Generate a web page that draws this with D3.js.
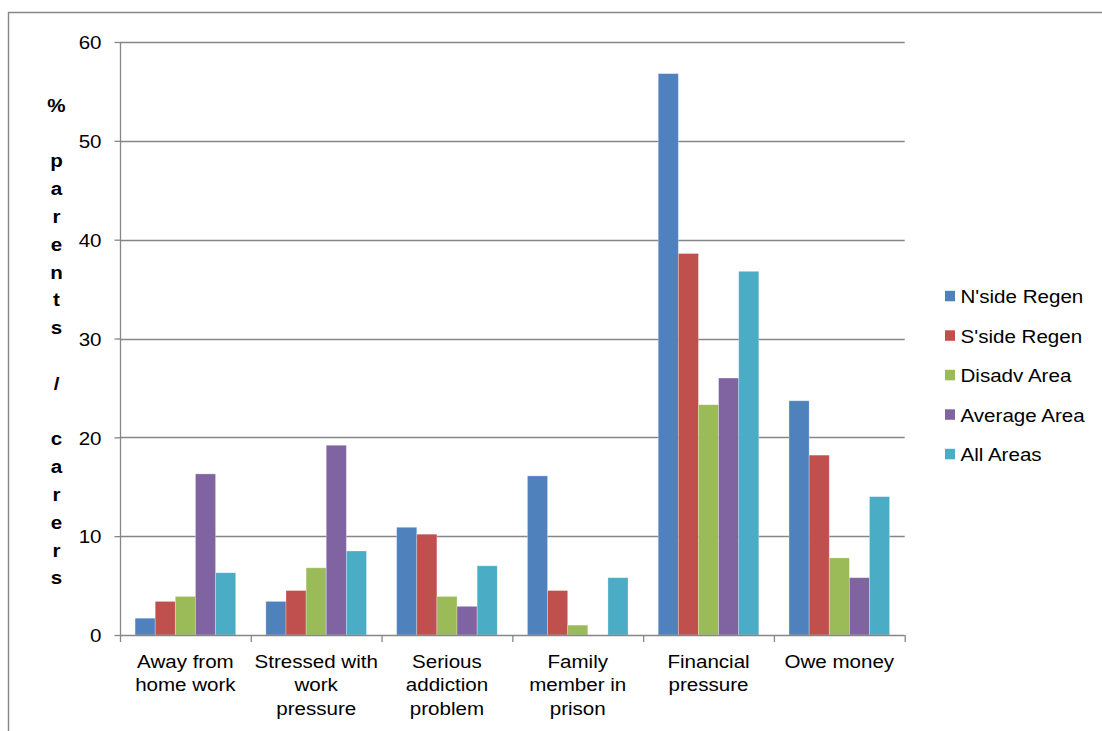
<!DOCTYPE html>
<html>
<head>
<meta charset="utf-8">
<script src="https://cdn.jsdelivr.net/npm/d3@7"></script>
<style>
  html, body { margin: 0; padding: 0; background: #fff; }
  svg { display: block; font-family: "Liberation Sans", Arial, sans-serif; }
</style>
</head>
<body>
<svg id="chart" width="1102" height="731"></svg>
<script>
// Categories (line breaks mark where each axis label wraps)
const categories = [
  "Away from\nhome work",
  "Stressed with\nwork\npressure",
  "Serious\naddiction\nproblem",
  "Family\nmember in\nprison",
  "Financial\npressure",
  "Owe money"
];

// Series names and colours
const seriesNames = ["N'side Regen", "S'side Regen", "Disadv Area", "Average Area", "All Areas"];
const seriesColors = ["#4F81BD", "#C0504D", "#9BBB59", "#8064A2", "#4BACC6"];

// Percentage of parents / carers, one array per series (in category order)
const nsideRegen   = [1.7, 3.4, 10.9, 16.1, 56.8, 23.7];
const ssideRegen   = [3.4, 4.5, 10.2, 4.5, 38.6, 18.2];
const disadvArea   = [3.9, 6.8, 3.9, 1.0, 23.3, 7.8];
const averageArea  = [16.3, 19.2, 2.9, 0, 26.0, 5.8];
const allAreas     = [6.3, 8.5, 7.0, 5.8, 36.8, 14.0];

const yTicks = [0, 10, 20, 30, 40, 50, 60];
const yTitle = "% parents / carers";

const seriesValues = [nsideRegen, ssideRegen, disadvArea, averageArea, allAreas];

// Layout
const plot = { left: 120, right: 904.7, top: 42, bottom: 635 };
const FONT = 18.7;      // text size
const STRETCH = 1.1;    // horizontal text stretch
const AXIS_GREY = "#868686";

const svg = d3.select("#chart");

// Outer frame (left and top edges)
svg.append("path")
  .attr("d", "M8.5,731 V12.5 H1102")
  .attr("fill", "none")
  .attr("stroke", AXIS_GREY)
  .attr("stroke-width", 1.4);

// Scales
const x0 = d3.scaleBand().domain(categories).range([plot.left, plot.right]).paddingInner(0).paddingOuter(0);
const band = x0.bandwidth();
const barW = band / 6.5;  // 150% gap width between groups
const x1 = d3.scaleBand().domain(seriesNames).range([barW * 0.75, band - barW * 0.75]).padding(0);
const y = d3.scaleLinear().domain([0, 60]).range([plot.bottom, plot.top]);

// Place a text with a horizontal stretch about its anchor point
function placeText(sel, x, yy) {
  sel.attr("x", 0).attr("y", 0)
     .attr("transform", `translate(${x},${yy}) scale(${STRETCH},1)`);
  return sel;
}

// Horizontal gridlines
svg.append("g")
  .selectAll("line")
  .data(yTicks.filter(d => d > 0))
  .join("line")
  .attr("x1", plot.left).attr("x2", plot.right)
  .attr("y1", d => Math.round(y(d)) + 0.5).attr("y2", d => Math.round(y(d)) + 0.5)
  .attr("stroke", AXIS_GREY)
  .attr("stroke-width", 1.3);

// Bars
const groups = svg.append("g")
  .selectAll("g")
  .data(categories)
  .join("g")
  .attr("transform", d => `translate(${x0(d)},0)`);

groups.selectAll("rect")
  .data((c, ci) => seriesNames.map((s, si) => ({ s, si, v: seriesValues[si][ci] })))
  .join("rect")
  .filter(d => d.v > 0)
  .attr("x", d => x1(d.s))
  .attr("width", x1.bandwidth())
  .attr("y", d => y(d.v))
  .attr("height", d => y(0) - y(d.v))
  .attr("fill", d => seriesColors[d.si])
  .attr("stroke", "rgba(255,255,255,0.35)")
  .attr("stroke-width", 0.8);

// Y axis
const yAxis = svg.append("g")
  .attr("transform", `translate(${plot.left + 0.5},0)`)
  .call(d3.axisLeft(y).tickValues(yTicks).tickSize(6).tickFormat(d3.format("d")));
yAxis.select(".domain").attr("stroke", AXIS_GREY).attr("stroke-width", 1.3)
  .attr("d", `M0,${plot.bottom}V${plot.top}`);
yAxis.selectAll(".tick line").attr("stroke", AXIS_GREY).attr("stroke-width", 1.3);
yAxis.selectAll(".tick text")
  .attr("font-size", FONT)
  .attr("font-family", "Liberation Sans, Arial, sans-serif")
  .attr("fill", "#000")
  .attr("dy", "0.36em")
  .attr("text-anchor", "end")
  .each(function () { placeText(d3.select(this), -19, 0); });

// X axis line with category boundary ticks
const xAxis = svg.append("g");
xAxis.append("line")
  .attr("x1", plot.left).attr("x2", plot.right)
  .attr("y1", y(0) + 0.5).attr("y2", y(0) + 0.5)
  .attr("stroke", AXIS_GREY).attr("stroke-width", 1.3);
const boundaries = categories.map(c => x0(c)).concat([x0.range()[1]]);
xAxis.selectAll("line.tick")
  .data(boundaries)
  .join("line")
  .attr("class", "tick")
  .attr("x1", d => d + 0.5).attr("x2", d => d + 0.5)
  .attr("y1", y(0)).attr("y2", y(0) + 7)
  .attr("stroke", AXIS_GREY).attr("stroke-width", 1.3);

// Category labels (wrapped)
categories.forEach(c => {
  const cx = x0(c) + band / 2;
  c.split("\n").forEach((line, i) => {
    placeText(svg.append("text"), cx, 668 + i * 23.3)
      .attr("text-anchor", "middle")
      .attr("font-size", FONT)
      .attr("fill", "#000")
      .text(line);
  });
});

// Y axis title, stacked one character per line
yTitle.split("").forEach((ch, i) => {
  if (ch === " ") return;
  placeText(svg.append("text"), 56.5, 111.7 + i * 27.8)
    .attr("text-anchor", "middle")
    .attr("font-size", FONT)
    .attr("font-weight", "bold")
    .attr("fill", "#000")
    .text(ch);
});

// Legend
const legend = svg.append("g");
seriesNames.forEach((name, i) => {
  const base = 303.3 + i * 39.5;
  legend.append("rect")
    .attr("x", 945).attr("y", base - 12.5)
    .attr("width", 10).attr("height", 10.5)
    .attr("fill", seriesColors[i]);
  placeText(legend.append("text"), 960.5, base)
    .attr("font-size", FONT)
    .attr("fill", "#000")
    .text(name);
});
</script>
</body>
</html>
